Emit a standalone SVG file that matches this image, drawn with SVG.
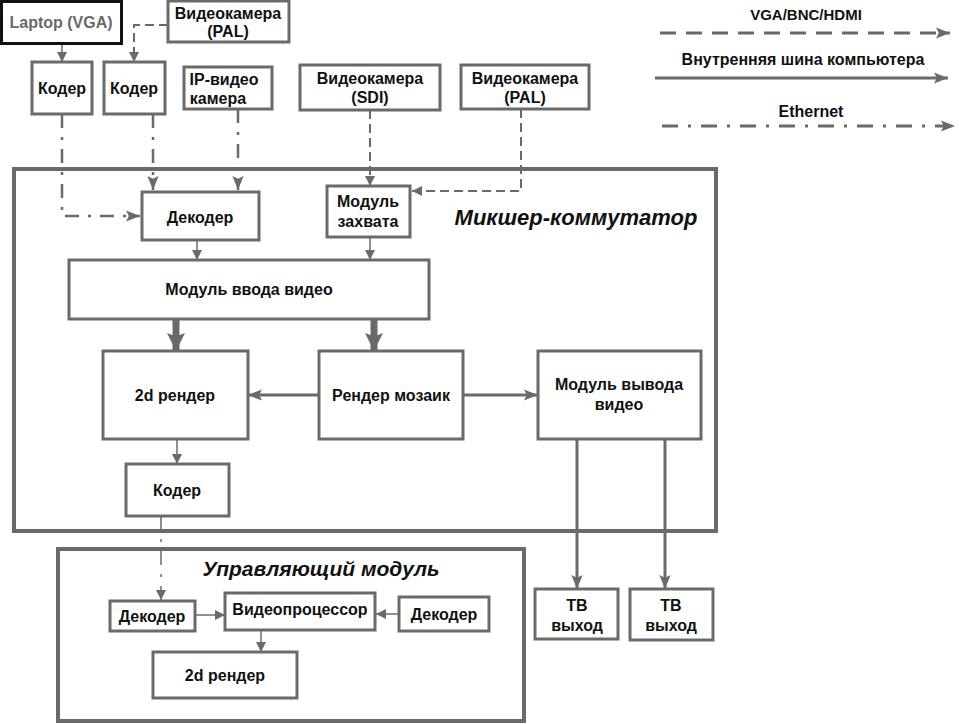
<svg xmlns="http://www.w3.org/2000/svg" width="959" height="724" viewBox="0 0 959 724">
<defs>
<style>
.box{fill:#fff;stroke:#6a6a6a;stroke-width:3}
.cont{fill:none;stroke:#6a6a6a;stroke-width:4}
.t{font-family:"Liberation Sans",Arial,sans-serif;font-weight:bold;font-size:16px;fill:#111;text-anchor:middle}
.title{font-family:"Liberation Sans",Arial,sans-serif;font-weight:bold;font-style:italic;font-size:21px;fill:#111;text-anchor:middle}
.thin{fill:none;stroke:#6a6a6a;stroke-width:1.5}
.dash{fill:none;stroke:#6a6a6a;stroke-width:2;stroke-dasharray:9 5}
.dd{fill:none;stroke:#6a6a6a;stroke-width:2.5;stroke-dasharray:14 9 3 9}
.mid{fill:none;stroke:#6a6a6a;stroke-width:3}
.thick{fill:none;stroke:#6a6a6a;stroke-width:7}
</style>
<marker id="a" viewBox="0 0 10 10" refX="10" refY="5" markerWidth="10" markerHeight="10" markerUnits="userSpaceOnUse" orient="auto"><path d="M0,0 L10,5 L0,10 z" fill="#6a6a6a"/></marker>
<marker id="am" viewBox="0 0 10 10" refX="10" refY="5" markerWidth="14" markerHeight="14" markerUnits="userSpaceOnUse" orient="auto"><path d="M0,1 L10,5 L0,9 L2,5 z" fill="#6a6a6a"/></marker>
<marker id="al" viewBox="0 0 10 10" refX="10" refY="5" markerWidth="18" markerHeight="20" markerUnits="userSpaceOnUse" orient="auto"><path d="M0,0 L10,5 L0,10 L2,5 z" fill="#6a6a6a"/></marker>
<marker id="ad" viewBox="0 0 10 10" refX="10" refY="5" markerWidth="14" markerHeight="14" markerUnits="userSpaceOnUse" orient="auto"><path d="M0,1 L10,5 L0,9 L2,5 z" fill="#6a6a6a"/></marker>
</defs>
<rect width="959" height="724" fill="#fff"/>

<g id="mixer">
<rect class="cont" x="14" y="169" width="702" height="362"/>
<text class="title" x="576" y="225" style="font-size:22px">Микшер-коммутатор</text>
</g>
<g id="control">
<rect class="cont" x="58" y="549" width="466" height="172"/>
<text class="title" x="321" y="576">Управляющий модуль</text>
</g>

<g id="connectors">
<path class="thin" d="M62,43 V62" marker-end="url(#a)"/>
<path class="dash" d="M168,25 H134 V62" marker-end="url(#a)"/>
<path class="dd" d="M62,114 V216 H140" marker-end="url(#ad)"/>
<path class="dd" d="M153,114 V190" marker-end="url(#ad)"/>
<path class="dd" d="M238,109 V190" marker-end="url(#ad)"/>
<path class="dash" d="M370,110 V186" marker-end="url(#a)"/>
<path class="dash" d="M521,109 V191 H412" marker-end="url(#a)"/>
<path class="thin" d="M197,240 V260" marker-end="url(#a)"/>
<path class="thin" d="M370,237 V260" marker-end="url(#a)"/>
<path class="thick" d="M176,319 V351" marker-end="url(#al)"/>
<path class="thick" d="M374,319 V351" marker-end="url(#al)"/>
<path class="mid" d="M319,395 H248" marker-end="url(#am)"/>
<path class="mid" d="M463,395 H538" marker-end="url(#am)"/>
<path class="thin" d="M177,439 V464" marker-end="url(#a)"/>
<path class="mid" d="M577,439 V589" marker-end="url(#am)"/>
<path class="mid" d="M665,439 V589" marker-end="url(#am)"/>
<path class="dd" style="stroke-width:1.5" d="M161,516 V600" marker-end="url(#a)"/>
<path class="thin" d="M195,615 H225" marker-end="url(#a)"/>
<path class="thin" d="M399,614 H376" marker-end="url(#a)"/>
<path class="thin" d="M261,630 V652" marker-end="url(#a)"/>
<path class="dash" style="stroke-width:3;stroke-dasharray:16 10" d="M660,33 H950" marker-end="url(#am)"/>
<path class="mid" d="M655,78 H948" marker-end="url(#am)"/>
<path class="dd" style="stroke-width:3;stroke-dasharray:16 10 3 10" d="M662,126 H955" marker-end="url(#am)"/>
</g>

<g id="legend">
<text class="t" x="806" y="20" style="font-size:15px">VGA/BNC/HDMI</text>
<text class="t" x="803" y="65">Внутренняя шина компьютера</text>
<text class="t" x="811" y="117">Ethernet</text>
</g>

<g id="laptop"><rect x="1.5" y="1.5" width="120" height="42" fill="#fff" stroke="#111" stroke-width="3"/><text class="t" x="61" y="28" style="fill:#6a6a6a">Laptop (VGA)</text></g>
<g id="cam_pal1"><rect class="box" x="168" y="1" width="121" height="41"/><text class="t" x="228" y="19">Видеокамера</text><text class="t" x="228" y="37">(PAL)</text></g>
<g id="coder1"><rect class="box" x="32" y="62" width="60" height="52"/><text class="t" x="62" y="94">Кодер</text></g>
<g id="coder2"><rect class="box" x="104" y="62" width="61" height="52"/><text class="t" x="134" y="94">Кодер</text></g>
<g id="ipcam"><rect class="box" x="184" y="67" width="88" height="42"/><text class="t" x="224" y="85">IP-видео</text><text class="t" x="218" y="104">камера</text></g>
<g id="cam_sdi"><rect class="box" x="300" y="65" width="140" height="45"/><text class="t" x="370" y="84">Видеокамера</text><text class="t" x="370" y="103">(SDI)</text></g>
<g id="cam_pal2"><rect class="box" x="461" y="65" width="128" height="44"/><text class="t" x="525" y="84">Видеокамера</text><text class="t" x="525" y="103">(PAL)</text></g>

<g id="decoder"><rect class="box" x="142" y="192" width="117" height="48"/><text class="t" x="200" y="223">Декодер</text></g>
<g id="capture"><rect class="box" x="327" y="186" width="83" height="51"/><text class="t" x="368" y="207">Модуль</text><text class="t" x="368" y="227">захвата</text></g>
<g id="input"><rect class="box" x="69" y="260" width="360" height="59"/><text class="t" x="249" y="295">Модуль ввода видео</text></g>
<g id="render2d"><rect class="box" x="103" y="351" width="145" height="88"/><text class="t" x="175" y="401">2d рендер</text></g>
<g id="mosaic"><rect class="box" x="319" y="351" width="144" height="88"/><text class="t" x="391" y="401">Рендер мозаик</text></g>
<g id="output"><rect class="box" x="538" y="351" width="163" height="88"/><text class="t" x="619" y="390">Модуль вывода</text><text class="t" x="619" y="410">видео</text></g>
<g id="coder3"><rect class="box" x="126" y="464" width="103" height="52"/><text class="t" x="177" y="496">Кодер</text></g>

<g id="decoder_l"><rect class="box" x="110" y="601" width="85" height="30"/><text class="t" x="152" y="622">Декодер</text></g>
<g id="videoproc"><rect class="box" x="225" y="593" width="150" height="37"/><text class="t" x="300" y="615">Видеопроцессор</text></g>
<g id="decoder_r"><rect class="box" x="399" y="597" width="90" height="34"/><text class="t" x="444" y="620">Декодер</text></g>
<g id="render2d_c"><rect class="box" x="153" y="652" width="144" height="46"/><text class="t" x="225" y="681">2d рендер</text></g>

<g id="tv1"><rect class="box" x="535" y="589" width="83" height="50"/><text class="t" x="577" y="611">ТВ</text><text class="t" x="577" y="631">выход</text></g>
<g id="tv2"><rect class="box" x="630" y="589" width="83" height="51"/><text class="t" x="671" y="611">ТВ</text><text class="t" x="671" y="631">выход</text></g>
</svg>
